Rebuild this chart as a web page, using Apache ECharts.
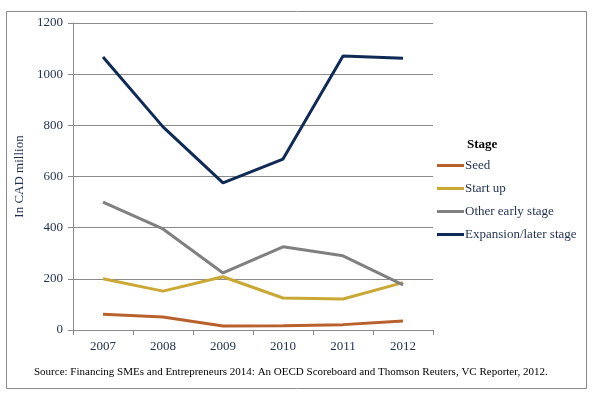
<!DOCTYPE html>
<html lang="en">
<head>
    <meta charset="UTF-8">
    <title>VC investment by stage</title>
    <script src="https://cdn.jsdelivr.net/npm/echarts@6/dist/echarts.min.js"></script>
    <style>
        html, body { margin: 0; padding: 0; background: #fff; }
    </style>
</head>
<body>
    <div id="chart" style="width: 600px; height: 401px;"></div>
    <script>
        // data
        var years = ["2007", "2008", "2009", "2010", "2011", "2012"]
        var seed = [62, 51, 16, 17, 21, 35]
        var startUp = [200, 152, 208, 125, 121, 185]
        var otherEarly = [500, 395, 223, 325, 290, 176]
        var expansion = [1067, 794, 575, 668, 1071, 1062]

        var seriesNames = ["Seed", "Start up", "Other early stage", "Expansion/later stage"]
        var seriesColors = ["#b9612c", "#c9a834", "#808080", "#0f2b55"]
        var seriesData = [seed, startUp, otherEarly, expansion]

        var serif = "Liberation Serif"
        var navy = "#1f3050"

        var chart = echarts.init(document.getElementById("chart"))

        var series = seriesNames.map(function (name, i) {
            return {
                name: name,
                type: "line",
                data: seriesData[i],
                symbol: "none",
                lineStyle: { width: 3, color: seriesColors[i] },
                itemStyle: { color: seriesColors[i] }
            }
        })

        chart.setOption({
            animation: false,
            textStyle: { fontFamily: serif },
            title: [
                {
                    text: "Stage",
                    left: 462,
                    top: 133,
                    textStyle: { fontFamily: serif, fontSize: 13, fontWeight: "bold", color: "#000" }
                },
                {
                    text: "Source: Financing SMEs and Entrepreneurs 2014: An OECD Scoreboard and Thomson Reuters, VC Reporter, 2012.",
                    left: 29,
                    top: 362,
                    textStyle: { fontFamily: serif, fontSize: 11, fontWeight: "normal", color: "#000" }
                }
            ],
            graphic: [{
                type: "rect",
                shape: { x: 6.5, y: 11.5, width: 580, height: 377 },
                style: { fill: "none", stroke: "#8a8a8a", lineWidth: 1 }
            }],
            legend: {
                orient: "vertical",
                left: 432,
                top: 154,
                itemWidth: 27,
                itemHeight: 3,
                itemGap: 10,
                icon: "rect",
                data: seriesNames,
                textStyle: { fontFamily: serif, fontSize: 13, color: navy, padding: [0, 0, 0, -4] }
            },
            grid: { left: 73, right: 167, top: 23, bottom: 71 },
            xAxis: {
                type: "category",
                data: years,
                boundaryGap: true,
                axisLine: { lineStyle: { color: "#8a8a8a" } },
                axisTick: { show: true, length: 5, lineStyle: { color: "#8a8a8a" } },
                axisLabel: { fontFamily: serif, fontSize: 13, color: navy, margin: 10 }
            },
            yAxis: {
                type: "value",
                min: 0,
                max: 1200,
                interval: 200,
                name: "In CAD million",
                nameLocation: "middle",
                nameGap: 38,
                nameTextStyle: { fontFamily: serif, fontSize: 13, color: navy },
                axisLine: { show: true, lineStyle: { color: "#8a8a8a" } },
                axisTick: { show: true, length: 5, lineStyle: { color: "#8a8a8a" } },
                axisLabel: { fontFamily: serif, fontSize: 13, color: navy, margin: 10, formatter: function (v) { return String(v) } },
                splitLine: { lineStyle: { color: "#8a8a8a" } }
            },
            series: series
        })
    </script>
</body>
</html>
